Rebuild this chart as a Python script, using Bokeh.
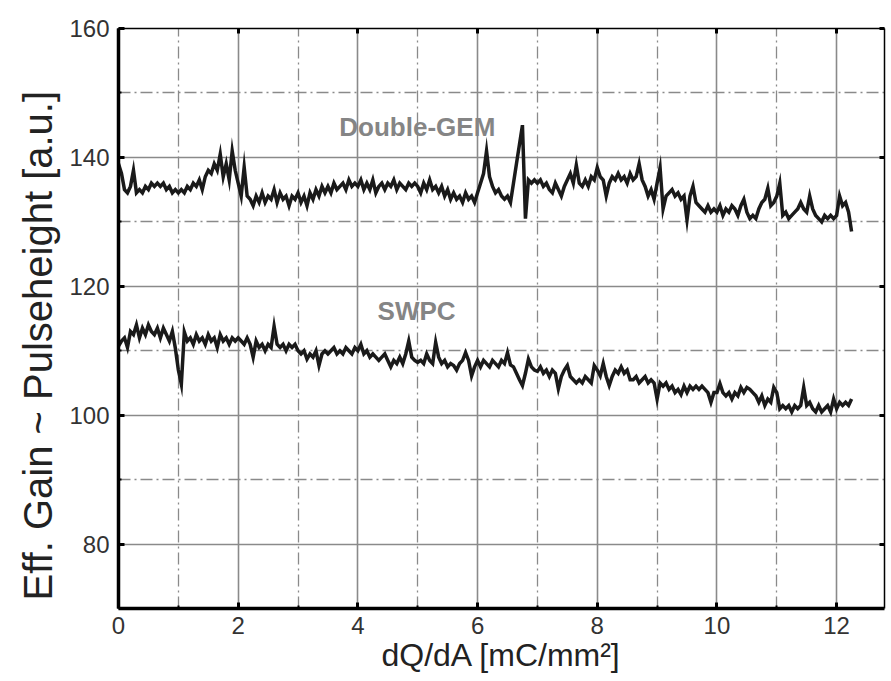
import numpy as np
from bokeh.plotting import figure
from bokeh.models import FixedTicker, LinearAxis, Label, CustomJSTickFormatter, Title
from bokeh.embed import file_html
from bokeh.resources import INLINE

x_step = 0.05

gem = [
    139, 137.5, 135, 134.5, 135.5, 138, 134.5, 135, 134.5, 135.5, 135, 136, 135.5, 136, 135.5, 136, 135, 135.5, 134.5, 135,
    134.5, 135, 134.5, 135.5, 135, 136, 135.5, 136.5, 135, 137, 138, 137.5, 139, 138, 140.5, 137, 139, 136.5, 141, 138,
    136, 134, 138.5, 134, 133.5, 132.5, 134, 133, 134.5, 133, 134, 133.5, 135, 133, 134.5, 133.5, 134, 132.5, 134, 133.5,
    134.5, 133, 134, 132.5, 134.5, 133.5, 135, 134, 135.5, 134.5, 135.5, 134.5, 136, 135, 135.5, 136, 135, 136.5, 135.5, 136,
    135.5, 136.5, 135, 136, 135, 136.5, 134.5, 135.5, 136, 135, 136, 135.5, 136.5, 135, 136, 135.5, 135, 136, 135.5, 136,
    135.5, 134.5, 136, 135, 136.5, 135, 135.5, 134.5, 135.5, 134, 135, 133.5, 134.5, 133.5, 134, 133, 134.5, 133.5, 134, 133,
    134.5, 136, 137.5, 141, 137, 135.5, 134.5, 135, 134, 133.5, 134, 133, 136, 139, 142, 145, 130.5, 136.5, 136, 136.5,
    136, 136.5, 135.5, 136, 135, 134.5, 136, 135, 134, 135.5, 136.5, 137.5, 136, 138.8, 136, 135.5, 136.5, 135.5, 137, 136.5,
    138.4, 137, 136.5, 134, 136, 137, 136.5, 137.5, 136.5, 137, 136, 137.5, 136.5, 137, 139, 136.5, 135.5, 134, 135, 133.5,
    136, 138.4, 132, 134, 134.5, 135, 134, 134.5, 133.5, 134, 130.3, 134, 135.5, 133, 132.5, 132, 131.5, 132.5, 131.5, 132,
    131.5, 132.5, 131, 132, 131.5, 132.5, 132, 131, 132.5, 133.5, 131.5, 130.5, 131, 130.5, 132, 133, 133.5, 135.2, 132.5, 133,
    134, 136, 131, 131.5, 130.5, 131, 131.5, 132, 133, 132, 131.5, 134, 132, 131, 130.5, 130, 131, 130.5, 131, 130.5,
    131, 134, 132.5, 133, 131.5, 128.5,
]

swpc = [
    110.7, 111.5, 112, 110.5, 113, 112.5, 114, 112, 113.5, 112.5, 114, 113, 112.5, 113.5, 112, 113.5, 112.5, 111.5, 113, 110.4,
    107, 104.8, 112.9, 111.5, 112, 111, 112.5, 111.5, 112, 111, 112.5, 111.5, 112, 110.5, 112.5, 111.5, 112, 111, 112, 111.5,
    112, 111.5, 111, 112, 111, 109, 111.5, 110.5, 111, 110, 111, 110.5, 113.8, 111, 110.5, 111, 110, 111, 110.5, 111,
    110, 109.5, 110, 108.7, 109.5, 109, 110, 107.7, 109.5, 110, 109.5, 110, 110.5, 109.5, 110, 109.5, 110.5, 110, 109.5, 110.5,
    110, 111, 109.5, 110, 109, 109.5, 109, 108.5, 109, 109.5, 108.5, 107.5, 108.5, 108, 109, 108, 109.5, 111.5, 109, 108.5,
    108.2, 108.5, 108, 109.5, 108.5, 108, 111.3, 109, 108, 108.5, 107.5, 108, 107.7, 107, 108, 108.5, 109.7, 108.5, 106.1, 107.5,
    108.5, 107.5, 108.5, 108, 107.5, 108.5, 108, 107.5, 108.5, 108, 109.7, 107.8, 107.5, 106.5, 105.5, 104.6, 106.5, 108.7, 107.5, 107,
    106.8, 107.5, 106.5, 107, 106, 107, 106.5, 104.1, 106, 107, 107.7, 106, 105.5, 105, 105.5, 105, 106, 105.5, 105, 107.7,
    107, 106.1, 108, 106, 104.6, 106, 107, 106.5, 107.5, 106.5, 107, 105.5, 105.5, 106, 105, 105.5, 106, 105, 105.5, 105,
    102.5, 105, 104.5, 105, 104, 104.5, 103.5, 104, 103.2, 104.5, 103.5, 104.5, 104, 104.5, 104, 104.5, 104, 103.5, 102, 103.5,
    103.5, 104.9, 103.5, 103, 103.5, 102.5, 103.5, 103, 104.3, 103.5, 104.3, 104, 103.5, 103, 102, 103, 101.5, 102.5, 102, 104.3,
    103.5, 101, 101.5, 101, 101.5, 100.5, 101.5, 101, 101.5, 104.3, 101.5, 102, 101, 100.5, 101.5, 100.5, 101, 101.5, 100.5, 102.5,
    101, 102, 101.5, 102, 101.5, 102.5,
]

x_major = [0, 2, 4, 6, 8, 10, 12]
x_minor = [1, 3, 5, 7, 9, 11]
y_major = [80, 100, 120, 140, 160]
y_minor = [70, 90, 110, 130, 150]

x_gem = np.round(np.arange(len(gem)) * x_step, 3)
x_swpc = np.round(np.arange(len(swpc)) * x_step, 3)

FONT = "Liberation Sans"

p = figure(width=891, height=681, x_range=(0, 12.8), y_range=(70, 160),
           output_backend="svg", toolbar_location=None, title=None,
           min_border_left=118, min_border_right=7, min_border_top=28, min_border_bottom=73)
p.outline_line_color = None
p.background_fill_color = "white"

xt = FixedTicker(ticks=x_major, minor_ticks=x_minor)
yt = FixedTicker(ticks=y_major, minor_ticks=y_minor)

for ax, t in ((p.xaxis[0], xt), (p.yaxis[0], yt)):
    ax.ticker = t
    ax.axis_line_width = 3.5
    ax.axis_line_color = "black"
    ax.major_tick_in = 6
    ax.major_tick_out = 0
    ax.major_tick_line_width = 3
    ax.minor_tick_in = 3
    ax.minor_tick_out = 0
    ax.minor_tick_line_width = 2
    ax.major_label_text_font = FONT
    ax.major_label_text_font_size = "24px"
    ax.major_label_text_color = "#333333"
    ax.axis_label_text_font = FONT
    ax.axis_label_text_font_style = "normal"
    ax.axis_label_text_color = "#222222"

p.xaxis.axis_label = "dQ/dA [mC/mm²]"
p.xaxis.axis_label_text_font_size = "32px"
p.xaxis.major_label_standoff = 8
p.xaxis.axis_label_standoff = 0
p.yaxis.major_label_standoff = 9

blank = CustomJSTickFormatter(code="return ''")
top = LinearAxis(ticker=FixedTicker(ticks=x_major, minor_ticks=x_minor), formatter=blank)
right = LinearAxis(ticker=FixedTicker(ticks=y_major, minor_ticks=y_minor), formatter=blank)
for ax in (top, right):
    ax.axis_line_width = 1.5
    ax.axis_line_color = "black"
    ax.major_tick_in = 5
    ax.major_tick_out = 0
    ax.major_tick_line_width = 3
    ax.minor_tick_in = 0
    ax.minor_tick_out = 0
    ax.major_label_standoff = 0
    ax.major_label_text_font_size = "1px"
p.add_layout(top, "above")
p.add_layout(right, "right")

# y-axis title as a side title, starting just above the bottom of the frame
ytitle = Title(text="Eff. Gain ~ Pulseheight [a.u.]", align="left", offset=8,
               text_font=FONT, text_font_size="40px", text_font_style="normal",
               text_color="#222222", standoff=14)
p.add_layout(ytitle, "left")

for g in (p.xgrid[0], p.ygrid[0]):
    g.grid_line_color = "#8a8a8a"
    g.grid_line_width = 1.6
    g.minor_grid_line_color = "#8a8a8a"
    g.minor_grid_line_width = 1.3
    g.minor_grid_line_dash = "12 4 2 4"
p.xgrid.ticker = xt
p.ygrid.ticker = yt

p.line(x_gem, gem, line_color="#1a1a1a", line_width=3.5, line_join="miter")
p.line(x_swpc, swpc, line_color="#1a1a1a", line_width=3.5, line_join="miter")

p.add_layout(Label(x=3.69, y=144.7, text="Double-GEM", text_font=FONT, text_font_size="26px",
                   text_font_style="bold", text_color="#858585", text_baseline="middle"))
p.add_layout(Label(x=4.33, y=116.1, text="SWPC", text_font=FONT, text_font_size="26px",
                   text_font_style="bold", text_color="#858585", text_baseline="middle"))

open("out.html", "w").write(file_html(p, INLINE))
